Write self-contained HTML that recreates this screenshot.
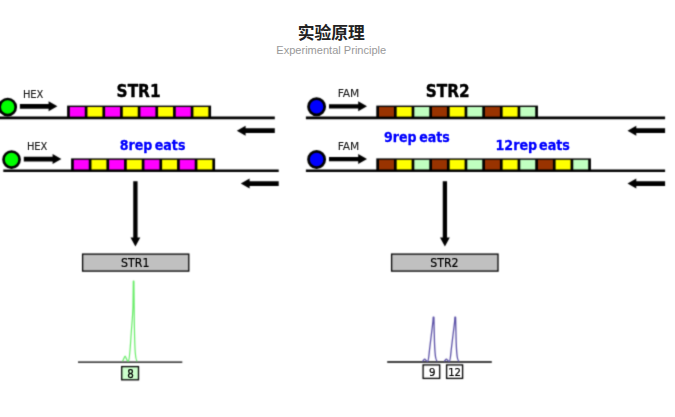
<!DOCTYPE html>
<html lang="zh-CN">
<head>
<meta charset="utf-8">
<title>实验原理</title>
<style>
html,body{margin:0;padding:0;background:#fff;}
body{width:675px;height:417px;overflow:hidden;position:relative;font-family:"Liberation Sans","Noto Sans CJK SC",sans-serif;}
.title{position:absolute;left:0;top:23px;width:662.5px;text-align:center;font-size:16.8px;line-height:22px;font-weight:bold;color:#222;}
.sub{position:absolute;left:0;top:42.5px;width:662.5px;text-align:center;font-size:11.05px;line-height:14px;color:#999;}
svg{position:absolute;left:0;top:0;}
</style>
</head>
<body>
<svg width="675" height="417" viewBox="0 0 675 417">
<defs><filter id="soft" x="0" y="0" width="675" height="417" filterUnits="userSpaceOnUse" color-interpolation-filters="sRGB"><feConvolveMatrix order="3" kernelMatrix="1 3 1 3 12 3 1 3 1" divisor="28" edgeMode="duplicate" preserveAlpha="true"/></filter><filter id="softer" x="0" y="0" width="675" height="417" filterUnits="userSpaceOnUse" color-interpolation-filters="sRGB"><feConvolveMatrix order="3" kernelMatrix="0 1 0 1 6 1 0 1 0" divisor="10" edgeMode="duplicate" preserveAlpha="false"/></filter></defs>
<g filter="url(#soft)">
<rect x="0" y="0" width="675" height="417" fill="#fff"/>
<line x1="0" y1="117.9" x2="274.8" y2="117.9" stroke="#000" stroke-width="2.6"/>
<line x1="3.3" y1="170.75" x2="278.7" y2="170.75" stroke="#000" stroke-width="2.6"/>
<circle cx="7.7" cy="107.05" r="8.05" fill="#00ff00" stroke="#000" stroke-width="2.65"/>
<circle cx="11.55" cy="159.55" r="8.05" fill="#00ff00" stroke="#000" stroke-width="2.65"/>
<path d="M19.9 103.95 H48.60 V101.30 L57.4 106.3 L48.60 111.30 V108.65 H19.9 Z" fill="#000"/>
<path d="M23.8 156.75 H52.60 V154.10 L61.4 159.1 L52.60 164.10 V161.45 H23.8 Z" fill="#000"/>
<rect x="67.10" y="105.60" width="143.98" height="12.30" fill="#000"/>
<rect x="69.80" y="107.00" width="14.96" height="9.60" fill="#ff00ff"/>
<rect x="87.46" y="107.00" width="14.96" height="9.60" fill="#ffff00"/>
<rect x="105.12" y="107.00" width="14.96" height="9.60" fill="#ff00ff"/>
<rect x="122.78" y="107.00" width="14.96" height="9.60" fill="#ffff00"/>
<rect x="140.44" y="107.00" width="14.96" height="9.60" fill="#ff00ff"/>
<rect x="158.10" y="107.00" width="14.96" height="9.60" fill="#ffff00"/>
<rect x="175.76" y="107.00" width="14.96" height="9.60" fill="#ff00ff"/>
<rect x="193.42" y="107.00" width="14.96" height="9.60" fill="#ffff00"/>
<rect x="71.10" y="158.40" width="143.98" height="12.35" fill="#000"/>
<rect x="73.80" y="159.80" width="14.96" height="9.65" fill="#ff00ff"/>
<rect x="91.46" y="159.80" width="14.96" height="9.65" fill="#ffff00"/>
<rect x="109.12" y="159.80" width="14.96" height="9.65" fill="#ff00ff"/>
<rect x="126.78" y="159.80" width="14.96" height="9.65" fill="#ffff00"/>
<rect x="144.44" y="159.80" width="14.96" height="9.65" fill="#ff00ff"/>
<rect x="162.10" y="159.80" width="14.96" height="9.65" fill="#ffff00"/>
<rect x="179.76" y="159.80" width="14.96" height="9.65" fill="#ff00ff"/>
<rect x="197.42" y="159.80" width="14.96" height="9.65" fill="#ffff00"/>
<path d="M274.8 128.35 H245.60 V125.70 L236.8 130.7 L245.60 135.70 V133.05 H274.8 Z" fill="#000"/>
<path d="M278.7 181.25 H249.60 V178.60 L240.8 183.6 L249.60 188.60 V185.95 H278.7 Z" fill="#000"/>
<path d="M133.25 181.3 V237.6 H130.5 L135.4 246.5 L140.3 237.6 H137.55 V181.3 Z" fill="#000"/>
<rect x="82.6" y="254.1" width="106.2" height="17" fill="#c0c0c0" stroke="#000" stroke-width="1.3"/>
<line x1="78" y1="362.1" x2="182.3" y2="362.1" stroke="#000" stroke-width="1.4"/>
<path d="M122.3 361.2 C123.5 361 124.3 356.2 125.1 356.2 C125.9 356.2 126.6 361 127.8 361.2 L128.4 361.2 C129.6 360 130.3 347 131.1 335 C131.9 323 132.7 316 133.0 306 L133.3 281.2 L133.9 281.2 L134.3 320 C134.5 335 134.8 347 135.3 353 C135.8 359 136.2 360.8 137.3 361.2" fill="none" stroke="#66ec66" stroke-width="1.2" stroke-linejoin="round"/>
<rect x="121.7" y="366.6" width="16.8" height="13.2" fill="#ccffcc" stroke="#000" stroke-width="1.3"/>
<line x1="305.9" y1="117.9" x2="665.1" y2="117.9" stroke="#000" stroke-width="2.6"/>
<line x1="305.9" y1="170.75" x2="665.1" y2="170.75" stroke="#000" stroke-width="2.6"/>
<circle cx="316.6" cy="106.8" r="8.1" fill="#0000ff" stroke="#000" stroke-width="2.7"/>
<circle cx="316.6" cy="159.5" r="8.1" fill="#0000ff" stroke="#000" stroke-width="2.7"/>
<path d="M329.0 104.15 H358.20 V101.30 L367.0 106.3 L358.20 111.30 V108.45 H329.0 Z" fill="#000"/>
<path d="M329.0 156.95 H358.20 V154.10 L367.0 159.1 L358.20 164.10 V161.25 H329.0 Z" fill="#000"/>
<rect x="376.30" y="105.60" width="161.64" height="12.30" fill="#000"/>
<rect x="379.00" y="107.00" width="14.96" height="9.60" fill="#993300"/>
<rect x="396.66" y="107.00" width="14.96" height="9.60" fill="#ffff00"/>
<rect x="414.32" y="107.00" width="14.96" height="9.60" fill="#c0ffc0"/>
<rect x="431.98" y="107.00" width="14.96" height="9.60" fill="#993300"/>
<rect x="449.64" y="107.00" width="14.96" height="9.60" fill="#ffff00"/>
<rect x="467.30" y="107.00" width="14.96" height="9.60" fill="#c0ffc0"/>
<rect x="484.96" y="107.00" width="14.96" height="9.60" fill="#993300"/>
<rect x="502.62" y="107.00" width="14.96" height="9.60" fill="#ffff00"/>
<rect x="520.28" y="107.00" width="14.96" height="9.60" fill="#c0ffc0"/>
<rect x="376.30" y="158.40" width="214.62" height="12.35" fill="#000"/>
<rect x="379.00" y="159.80" width="14.96" height="9.65" fill="#993300"/>
<rect x="396.66" y="159.80" width="14.96" height="9.65" fill="#ffff00"/>
<rect x="414.32" y="159.80" width="14.96" height="9.65" fill="#c0ffc0"/>
<rect x="431.98" y="159.80" width="14.96" height="9.65" fill="#993300"/>
<rect x="449.64" y="159.80" width="14.96" height="9.65" fill="#ffff00"/>
<rect x="467.30" y="159.80" width="14.96" height="9.65" fill="#c0ffc0"/>
<rect x="484.96" y="159.80" width="14.96" height="9.65" fill="#993300"/>
<rect x="502.62" y="159.80" width="14.96" height="9.65" fill="#ffff00"/>
<rect x="520.28" y="159.80" width="14.96" height="9.65" fill="#c0ffc0"/>
<rect x="537.94" y="159.80" width="14.96" height="9.65" fill="#993300"/>
<rect x="555.60" y="159.80" width="14.96" height="9.65" fill="#ffff00"/>
<rect x="573.26" y="159.80" width="14.96" height="9.65" fill="#c0ffc0"/>
<path d="M665.1 128.35 H636.30 V125.70 L627.5 130.7 L636.30 135.70 V133.05 H665.1 Z" fill="#000"/>
<path d="M665.1 181.25 H636.30 V178.60 L627.5 183.6 L636.30 188.60 V185.95 H665.1 Z" fill="#000"/>
<path d="M442.75 181.3 V237.6 H440.0 L444.9 246.5 L449.79999999999995 237.6 H447.04999999999995 V181.3 Z" fill="#000"/>
<rect x="391.6" y="254.1" width="106.4" height="17" fill="#c0c0c0" stroke="#000" stroke-width="1.3"/>
<line x1="387.2" y1="362.0" x2="491.8" y2="362.0" stroke="#000" stroke-width="1.4"/>
<path d="M422.30 361.4 C423.30 361.2 423.90 359.2 424.70 359.2 C425.50 359.2 426.10 361.2 427.30 361.3 L427.70 361.3 C428.50 361 428.90 356 429.50 350 L433.00 321 L433.20 317.2 L433.90 317.2 L434.30 335 C434.50 345 434.90 352 435.40 356 C435.90 359.5 436.40 361 437.40 361.4" fill="none" stroke="#5a50a6" stroke-width="1.3" stroke-linejoin="round"/>
<path d="M444.00 361.4 C445.00 361.2 445.60 359.2 446.40 359.2 C447.20 359.2 447.80 361.2 449.00 361.3 L449.40 361.3 C450.20 361 450.60 356 451.20 350 L454.70 321 L454.90 317.2 L455.60 317.2 L456.00 335 C456.20 345 456.60 352 457.10 356 C457.60 359.5 458.10 361 459.10 361.4" fill="none" stroke="#5a50a6" stroke-width="1.3" stroke-linejoin="round"/>
<rect x="423.1" y="364.9" width="16.6" height="13.5" fill="#fff" stroke="#000" stroke-width="1.3"/>
<rect x="446.6" y="364.9" width="16.0" height="13.5" fill="#fff" stroke="#000" stroke-width="1.3"/>
</g>
<g filter="url(#softer)">
<text x="22.9" y="97.6" font-size="10.6" font-weight="normal" fill="#222" text-anchor="start" font-family='"DejaVu Sans Condensed","DejaVu Sans","Liberation Sans",sans-serif' textLength="20.5" lengthAdjust="spacingAndGlyphs" stroke="#222" stroke-width="0.15" stroke-linejoin="round">HEX</text>
<text x="26.9" y="150.4" font-size="10.6" font-weight="normal" fill="#222" text-anchor="start" font-family='"DejaVu Sans Condensed","DejaVu Sans","Liberation Sans",sans-serif' textLength="20.5" lengthAdjust="spacingAndGlyphs" stroke="#222" stroke-width="0.15" stroke-linejoin="round">HEX</text>
<text x="337.7" y="97.1" font-size="10.6" font-weight="normal" fill="#222" text-anchor="start" font-family='"DejaVu Sans Condensed","DejaVu Sans","Liberation Sans",sans-serif' textLength="21.7" lengthAdjust="spacingAndGlyphs" stroke="#222" stroke-width="0.1" stroke-linejoin="round">FAM</text>
<text x="337.7" y="150.2" font-size="10.6" font-weight="normal" fill="#222" text-anchor="start" font-family='"DejaVu Sans Condensed","DejaVu Sans","Liberation Sans",sans-serif' textLength="21.7" lengthAdjust="spacingAndGlyphs" stroke="#222" stroke-width="0.1" stroke-linejoin="round">FAM</text>
<text x="116.6" y="97.4" font-size="17.8" font-weight="bold" fill="#000" text-anchor="start" font-family='"DejaVu Sans Condensed","DejaVu Sans","Liberation Sans",sans-serif' textLength="44.0" lengthAdjust="spacingAndGlyphs" stroke="#000" stroke-width="0.35" stroke-linejoin="round">STR1</text>
<text x="425.8" y="97.4" font-size="17.8" font-weight="bold" fill="#000" text-anchor="start" font-family='"DejaVu Sans Condensed","DejaVu Sans","Liberation Sans",sans-serif' textLength="43.9" lengthAdjust="spacingAndGlyphs" stroke="#000" stroke-width="0.35" stroke-linejoin="round">STR2</text>
<text x="119.7" y="150.0" font-size="14" font-weight="bold" fill="#0000ff" text-anchor="start" font-family='"DejaVu Sans Condensed","DejaVu Sans","Liberation Sans",sans-serif' textLength="65.7" lengthAdjust="spacingAndGlyphs" stroke="#0000ff" stroke-width="0.28" stroke-linejoin="round" word-spacing="-1.8">8rep eats</text>
<text x="384.1" y="141.8" font-size="14" font-weight="bold" fill="#0000ff" text-anchor="start" font-family='"DejaVu Sans Condensed","DejaVu Sans","Liberation Sans",sans-serif' textLength="65.6" lengthAdjust="spacingAndGlyphs" stroke="#0000ff" stroke-width="0.28" stroke-linejoin="round" word-spacing="-1.8">9rep eats</text>
<text x="495.5" y="150.0" font-size="14" font-weight="bold" fill="#0000ff" text-anchor="start" font-family='"DejaVu Sans Condensed","DejaVu Sans","Liberation Sans",sans-serif' textLength="74.4" lengthAdjust="spacingAndGlyphs" stroke="#0000ff" stroke-width="0.28" stroke-linejoin="round" word-spacing="-2.6">12rep eats</text>
<text x="135.2" y="266.6" font-size="13" font-weight="normal" fill="#000" text-anchor="middle" font-family='"DejaVu Sans Condensed","DejaVu Sans","Liberation Sans",sans-serif' textLength="28.4" lengthAdjust="spacingAndGlyphs" stroke="#000" stroke-width="0.2" stroke-linejoin="round">STR1</text>
<text x="444.4" y="266.6" font-size="13" font-weight="normal" fill="#000" text-anchor="middle" font-family='"DejaVu Sans Condensed","DejaVu Sans","Liberation Sans",sans-serif' textLength="28.4" lengthAdjust="spacingAndGlyphs" stroke="#000" stroke-width="0.2" stroke-linejoin="round">STR2</text>
<text x="130.6" y="377.5" font-size="11.5" font-weight="normal" fill="#000" text-anchor="middle" font-family='"DejaVu Sans Condensed","DejaVu Sans","Liberation Sans",sans-serif' stroke="#000" stroke-width="0.25" stroke-linejoin="round">8</text>
<text x="432.3" y="376.3" font-size="11.3" font-weight="normal" fill="#000" text-anchor="middle" font-family='"DejaVu Sans Condensed","DejaVu Sans","Liberation Sans",sans-serif' stroke="#000" stroke-width="0.2" stroke-linejoin="round">9</text>
<text x="454.6" y="376.3" font-size="11.3" font-weight="normal" fill="#000" text-anchor="middle" font-family='"DejaVu Sans Condensed","DejaVu Sans","Liberation Sans",sans-serif' textLength="12.8" lengthAdjust="spacingAndGlyphs" stroke="#000" stroke-width="0.2" stroke-linejoin="round">12</text>
</g>
</svg>
<div class="title">实验原理</div>
<div class="sub">Experimental Principle</div>
</body>
</html>
